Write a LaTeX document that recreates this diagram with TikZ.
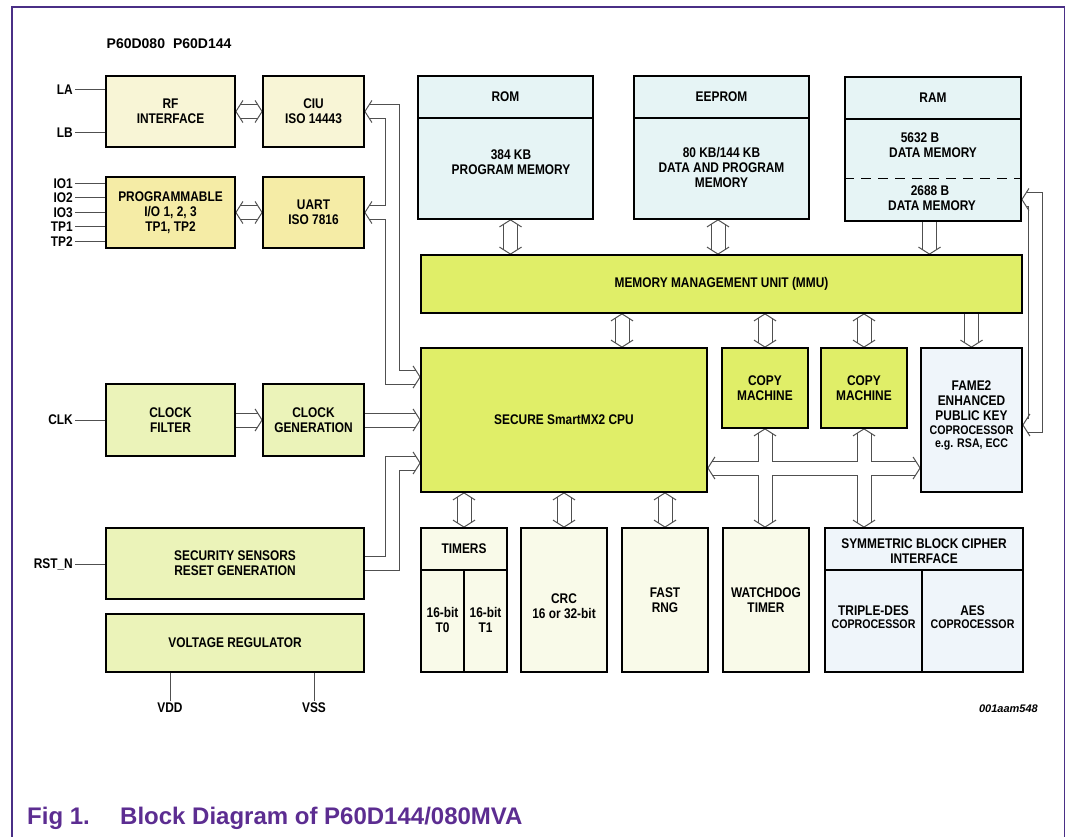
\documentclass[tikz,border=0pt]{standalone}
\usepackage{fontspec}
\setmainfont{Liberation Sans}
\newfontfamily\narrowfont[FakeStretch=0.85]{Liberation Sans}
\usetikzlibrary{calc,backgrounds}

\definecolor{framepurple}{HTML}{4A2F86}
\definecolor{captionpurple}{HTML}{5C2D91}
\definecolor{busgray}{HTML}{505050}
\definecolor{cpugreen}{HTML}{E0EE68}
\definecolor{clkgreen}{HTML}{EBF3B9}
\definecolor{rfyellow}{HTML}{F8F5D6}
\definecolor{ioyellow}{HTML}{F5ECA6}
\definecolor{memblue}{HTML}{E6F4F5}
\definecolor{copblue}{HTML}{EFF5FA}
\definecolor{periivory}{HTML}{F9FAE9}

\newcommand{\boxfont}{\narrowfont\bfseries\fontsize{14}{15}\selectfont}
\newcommand{\subfont}{\narrowfont\bfseries\fontsize{12.5}{13}\selectfont}

\tikzset{
  blk/.style={draw=black, line width=1.8pt, inner sep=0pt, align=center, font=\boxfont},
  txt/.style={inner sep=0pt, align=center, font=\boxfont},
  pintxt/.style={inner sep=2pt, font=\boxfont},
  pinline/.style={draw=busgray, line width=1pt},
  sepline/.style={draw=black, line width=1.8pt},
  bus/.style={draw=busgray, line width=1pt, double=white, double distance=13pt, line join=miter},
  both tips/.style={shorten <=4.45pt, shorten >=4.45pt},
  end tip/.style={shorten >=4.45pt},
  bushead/.pic={\draw[busgray, line width=1pt, line join=miter] (-7,-11) -- (0,0) -- (-7,11);}
}

\begin{document}
\begin{tikzpicture}[x=1pt, y=-1pt]
\useasboundingbox (0,0) rectangle (1066,837);

\node[anchor=west, inner sep=0pt, font=\bfseries\fontsize{14}{14}\selectfont] (title) at (106.5,43.5) {P60D080\hspace{8pt}P60D144};

\node[blk, fill=rfyellow, minimum width=129pt, minimum height=71pt] (rf) at (170.5,111.5) {RF\\INTERFACE};
\node[blk, fill=rfyellow, minimum width=101pt, minimum height=71pt] (ciu) at (313.5,111.5) {CIU\\ISO 14443};
\node[blk, fill=ioyellow, minimum width=129pt, minimum height=71pt] (pio) at (170.5,212.5) {PROGRAMMABLE\\I/O 1, 2, 3\\TP1, TP2};
\node[blk, fill=ioyellow, minimum width=101pt, minimum height=71pt] (uart) at (313.5,212.5) {UART\\ISO 7816};
\node[blk, fill=clkgreen, minimum width=129pt, minimum height=72pt] (clkf) at (170.5,420) {CLOCK\\FILTER};
\node[blk, fill=clkgreen, minimum width=101pt, minimum height=72pt] (clkg) at (313.5,420) {CLOCK\\GENERATION};
\node[blk, fill=clkgreen, minimum width=258pt, minimum height=71pt] (sens) at (235,563.5) {SECURITY SENSORS\\RESET GENERATION};
\node[blk, fill=clkgreen, minimum width=258pt, minimum height=58pt] (vreg) at (235,643) {VOLTAGE REGULATOR};

\node[blk, fill=memblue, minimum width=175pt, minimum height=143pt] (rom) at (505.5,147.5) {};
\node[blk, fill=memblue, minimum width=175pt, minimum height=143pt] (eeprom) at (721.5,147.5) {};
\node[blk, fill=memblue, minimum width=176pt, minimum height=144pt] (ram) at (933,149) {};
\node[blk, fill=cpugreen, minimum width=601pt, minimum height=58pt] (mmu) at (721.5,284) {MEMORY MANAGEMENT UNIT (MMU)};
\node[blk, fill=cpugreen, minimum width=286pt, minimum height=144pt] (cpu) at (564,420) {SECURE SmartMX2 CPU};
\node[blk, fill=cpugreen, minimum width=86pt, minimum height=80pt] (cm1) at (765,388) {COPY\\MACHINE};
\node[blk, fill=cpugreen, minimum width=86pt, minimum height=80pt] (cm2) at (864,388) {COPY\\MACHINE};
\node[blk, fill=copblue, minimum width=101pt, minimum height=144pt] (fame) at (971.5,420) {};
\node[blk, fill=periivory, minimum width=86pt, minimum height=144pt] (tmr) at (464,600) {};
\node[blk, fill=periivory, minimum width=86pt, minimum height=144pt] (crc) at (564,600) {};
\node[blk, fill=periivory, minimum width=86pt, minimum height=144pt] (rng) at (665,600) {FAST\\RNG};
\node[blk, fill=periivory, minimum width=86pt, minimum height=144pt] (wdt) at (766,600) {WATCHDOG\\TIMER};
\node[blk, fill=copblue, minimum width=198pt, minimum height=144pt] (sbc) at (924,600) {};

\draw[sepline] ($(rom.north west)+(0,43)$) -- ($(rom.north east)+(0,43)$);
\draw[sepline] ($(eeprom.north west)+(0,43)$) -- ($(eeprom.north east)+(0,43)$);
\draw[sepline] ($(ram.north west)+(0,43)$) -- ($(ram.north east)+(0,43)$);
\draw[black, line width=1pt, dash pattern=on 10pt off 7pt] ($(ram.west)+(0,30)$) -- ($(ram.east)+(0,30)$);
\draw[sepline] ($(tmr.north west)+(0,43)$) -- ($(tmr.north east)+(0,43)$);
\draw[sepline] ($(tmr.north)+(0,43)$) -- (tmr.south);
\draw[sepline] ($(sbc.north west)+(0,43)$) -- ($(sbc.north east)+(0,43)$);
\draw[sepline] (922,571) -- (922,0 |- sbc.south);

\node[txt] (romhead) at ($(rom.north)+(0,21.5)$) {ROM};
\node[txt] (rombody) at (511,162) {384 KB\\PROGRAM MEMORY};
\node[txt] (eehead) at ($(eeprom.north)+(0,21.5)$) {EEPROM};
\node[txt] (eebody) at (721.5,167) {80 KB/144 KB\\DATA AND PROGRAM\\MEMORY};
\node[txt] (ramhead) at ($(ram.north)+(0,21.5)$) {RAM};
\node[txt] (ramup) at (933,145) {5632 B\hspace*{26pt}\\DATA MEMORY};
\node[txt] (ramlow) at (932,198.5) {2688 B\hspace*{4pt}\\DATA MEMORY};
\node[txt] (famet) at (971.5,415) {FAME2\\ENHANCED\\PUBLIC KEY\\[-1pt]{\subfont COPROCESSOR}\\[-2pt]{\subfont e.g. RSA, ECC}};
\node[txt] (tmrhead) at ($(tmr.north)+(0,21.5)$) {TIMERS};
\node[txt] (tmr0) at (442.5,620) {16-bit\\T0};
\node[txt] (tmr1) at (485.5,620) {16-bit\\T1};
\node[txt] (crct) at (564,606.5) {CRC\\16 or 32-bit};
\node[txt] (sbchead) at ($(sbc.north)+(0,24.5)$) {SYMMETRIC BLOCK CIPHER\\INTERFACE};
\node[txt] (tdes) at (873.5,617.5) {TRIPLE-DES\\[-2pt]{\subfont COPROCESSOR}};
\node[txt] (aes) at (972.5,617.5) {AES\\[-2pt]{\subfont COPROCESSOR}};

\node[pintxt, anchor=east] (la) at (75,90) {LA};
\node[pintxt, anchor=east] (lb) at (75,133) {LB};
\node[pintxt, anchor=east] (io1) at (75,183.5) {IO1};
\node[pintxt, anchor=east] (io2) at (75,198) {IO2};
\node[pintxt, anchor=east] (io3) at (75,212.5) {IO3};
\node[pintxt, anchor=east] (tp1) at (75,227) {TP1};
\node[pintxt, anchor=east] (tp2) at (75,241.5) {TP2};
\node[pintxt, anchor=east] (clk) at (75,420) {CLK};
\node[pintxt, anchor=east] (rstn) at (75,564) {RST\_N};
\node[pintxt] (vdd) at (170,708) {VDD};
\node[pintxt] (vss) at (314,708) {VSS};
\draw[pinline] (la.east) -- (la.east -| rf.west);
\draw[pinline] (lb.east) -- (lb.east -| rf.west);
\draw[pinline] (io1.east) -- (io1.east -| pio.west);
\draw[pinline] (io2.east) -- (io2.east -| pio.west);
\draw[pinline] (io3.east) -- (io3.east -| pio.west);
\draw[pinline] (tp1.east) -- (tp1.east -| pio.west);
\draw[pinline] (tp2.east) -- (tp2.east -| pio.west);
\draw[pinline] (clk.east) -- (clkf.west);
\draw[pinline] (rstn.east) -- (rstn.east -| sens.west);
\draw[pinline] (vdd.north |- vreg.south) -- (vdd.north);
\draw[pinline] (vss.north |- vreg.south) -- (vss.north);

\begin{scope}[on background layer]
\draw[bus,both tips] (rf.east) -- (ciu.west);
\pic[rotate=180] at (rf.east) {bushead};
\pic at (ciu.west) {bushead};
\draw[bus,both tips] (pio.east) -- (uart.west);
\pic[rotate=180] at (pio.east) {bushead};
\pic at (uart.west) {bushead};
\coordinate (ciubus) at (392.5,377);
\draw[bus] ($(cpu.west |- ciubus)+(-4.45,0)$) -- (ciubus) -- (ciubus |- ciu.east) -- ($(ciu.east)+(4.45,0)$)
  (ciubus |- uart.east) -- ($(uart.east)+(4.45,0)$);
\pic at (cpu.west |- ciubus) {bushead};
\pic[rotate=180] at (ciu.east) {bushead};
\pic[rotate=180] at (uart.east) {bushead};
\draw[bus,end tip] (clkf.east) -- (clkg.west);
\pic at (clkg.west) {bushead};
\draw[bus,end tip] (clkg.east) -- (cpu.west);
\pic at (cpu.west) {bushead};
\coordinate (sensbus) at (392.5,463);
\draw[bus,end tip] (sens.east) -- (sens.east -| sensbus) -- (sensbus) -- (cpu.west |- sensbus);
\pic at (cpu.west |- sensbus) {bushead};

\draw[bus,both tips] ($(rom.south)+(5,0)$) -- ($(rom.south |- mmu.north)+(5,0)$);
\pic[rotate=90] at ($(rom.south)+(5,0)$) {bushead};
\pic[rotate=-90] at ($(rom.south |- mmu.north)+(5,0)$) {bushead};
\draw[bus,both tips] ($(eeprom.south)+(-3.5,0)$) -- ($(eeprom.south |- mmu.north)+(-3.5,0)$);
\pic[rotate=90] at ($(eeprom.south)+(-3.5,0)$) {bushead};
\pic[rotate=-90] at ($(eeprom.south |- mmu.north)+(-3.5,0)$) {bushead};
\draw[bus,end tip] ($(ram.south)+(-3.5,0)$) -- ($(ram.south |- mmu.north)+(-3.5,0)$);
\pic[rotate=-90] at ($(ram.south |- mmu.north)+(-3.5,0)$) {bushead};

\draw[bus,both tips] (622,0 |- mmu.south) -- (622,0 |- cpu.north);
\pic[rotate=90] at (622,0 |- mmu.south) {bushead};
\pic[rotate=-90] at (622,0 |- cpu.north) {bushead};
\draw[bus,both tips] (cm1.north |- mmu.south) -- (cm1.north);
\pic[rotate=90] at (cm1.north |- mmu.south) {bushead};
\pic[rotate=-90] at (cm1.north) {bushead};
\draw[bus,both tips] (cm2.north |- mmu.south) -- (cm2.north);
\pic[rotate=90] at (cm2.north |- mmu.south) {bushead};
\pic[rotate=-90] at (cm2.north) {bushead};
\draw[bus,end tip] (fame.north |- mmu.south) -- (fame.north);
\pic[rotate=-90] at (fame.north) {bushead};

\draw[bus,both tips] (tmr.north |- cpu.south) -- (tmr.north);
\pic[rotate=90] at (tmr.north |- cpu.south) {bushead};
\pic[rotate=-90] at (tmr.north) {bushead};
\draw[bus,both tips] (crc.north |- cpu.south) -- (crc.north);
\pic[rotate=90] at (crc.north |- cpu.south) {bushead};
\pic[rotate=-90] at (crc.north) {bushead};
\draw[bus,both tips] (rng.north |- cpu.south) -- (rng.north);
\pic[rotate=90] at (rng.north |- cpu.south) {bushead};
\pic[rotate=-90] at (rng.north) {bushead};

\coordinate (xbus) at (0,468);
\draw[bus] ($(cpu.east |- xbus)+(4.45,0)$) -- ($(fame.west |- xbus)+(-4.45,0)$)
  ($(cm1.south)+(0,4.45)$) -- ($(cm1.south |- wdt.north)+(0,-4.45)$)
  ($(cm2.south)+(0,4.45)$) -- ($(cm2.south |- sbc.north)+(0,-4.45)$);
\pic[rotate=180] at (cpu.east |- xbus) {bushead};
\pic at (fame.west |- xbus) {bushead};
\pic[rotate=90] at (cm1.south) {bushead};
\pic[rotate=90] at (cm2.south) {bushead};
\pic[rotate=-90] at (cm1.south |- wdt.north) {bushead};
\pic[rotate=-90] at (cm2.south |- sbc.north) {bushead};

\coordinate (ramkey) at (1035,199.5);
\coordinate (famekey) at (1035,425);
\draw[bus] ($(ram.east |- ramkey)+(4.45,0)$) -- (ramkey) -- (famekey) -- ($(fame.east |- famekey)+(4.45,0)$);
\pic[rotate=180] at (ram.east |- ramkey) {bushead};
\pic[rotate=180] at (fame.east |- famekey) {bushead};
\end{scope}

\node[anchor=east, inner sep=0pt, font=\bfseries\itshape\fontsize{11}{11}\selectfont] (drawno) at (1038,709) {001aam548};
\node[anchor=base west, inner sep=0pt, text=captionpurple, font=\bfseries\fontsize{24}{24}\selectfont] (fignum) at (27,824) {Fig 1.};
\node[anchor=base west, inner sep=0pt, text=captionpurple, font=\bfseries\fontsize{24}{24}\selectfont] (figtitle) at (120,824) {Block Diagram of P60D144/080MVA};
\draw[framepurple, line width=1.5pt] (12,837) -- (12,7) -- (1064.5,7) -- (1064.5,837);
\end{tikzpicture}
\end{document}
